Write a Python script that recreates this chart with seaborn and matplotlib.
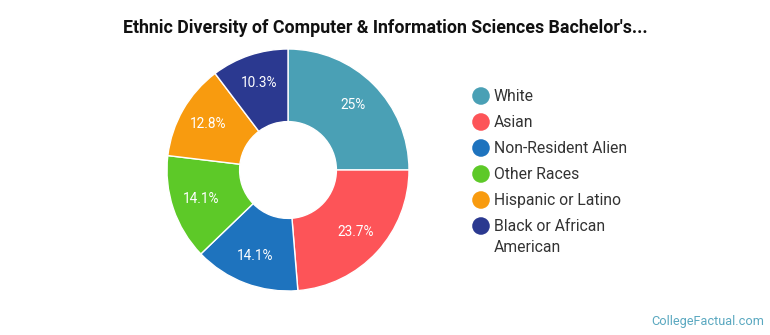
import matplotlib
matplotlib.use("Agg")
import matplotlib.pyplot as plt
import seaborn as sns

categories = ["White", "Asian", "Non-Resident Alien", "Other Races",
              "Hispanic or Latino", "Black or African\nAmerican"]
values = [25.0, 23.7, 14.1, 14.1, 12.8, 10.3]
value_labels = ["25%", "23.7%", "14.1%", "14.1%", "12.8%", "10.3%"]
colors = ["#4aa0b5", "#fd5458", "#1e73be", "#5dc928", "#f89b0f", "#2b3990"]
title = "Ethnic Diversity of Computer & Information Sciences Bachelor's..."
watermark = "CollegeFactual.com"

sns.set_theme(style="white")
plt.rcParams["font.family"] = ["Roboto", "DejaVu Sans"]

W, H = 770, 335
fig = plt.figure(figsize=(W / 100, H / 100), dpi=100)
fig.patch.set_facecolor("white")

# pie axes: center (288,170), radius 121 px
cx, cy, r = 288, 170, 121
ax = fig.add_axes([(cx - r) / W, (H - cy - r) / H, 2 * r / W, 2 * r / H])
wedges, texts = ax.pie(
    values, colors=colors, startangle=90, counterclock=False,
    labels=value_labels, labeldistance=0.76,
    wedgeprops=dict(width=0.60, edgecolor="white", linewidth=1),
    textprops=dict(color="white", fontsize=9.8),
)
for t in texts:
    t.set_ha("center")
    t.set_va("center")
ax.set_xlim(-1, 1)
ax.set_ylim(-1, 1)
ax.set_aspect("equal")
ax.axis("off")

# legend drawn in pixel coordinates
lax = fig.add_axes([0, 0, 1, 1])
lax.set_xlim(0, W)
lax.set_ylim(H, 0)
lax.axis("off")
lax.patch.set_alpha(0)
y = 96
for cat, col in zip(categories, colors):
    lax.scatter([481], [y], s=160, color=col, edgecolor="none")
    lax.text(494, y - 7, cat, fontsize=11.3, color="#333333", va="top",
             ha="left", linespacing=1.5)
    y += 26

fig.text(0.5, (H - 28) / H, title, ha="center", va="center",
         fontsize=12.8, fontweight="bold", color="#111111")
fig.text((W - 6) / W, (H - 321) / H, watermark, ha="right", va="center",
         fontsize=9.2, color="#5aa8c0")

fig.savefig("out.png", dpi=100, facecolor="white")
